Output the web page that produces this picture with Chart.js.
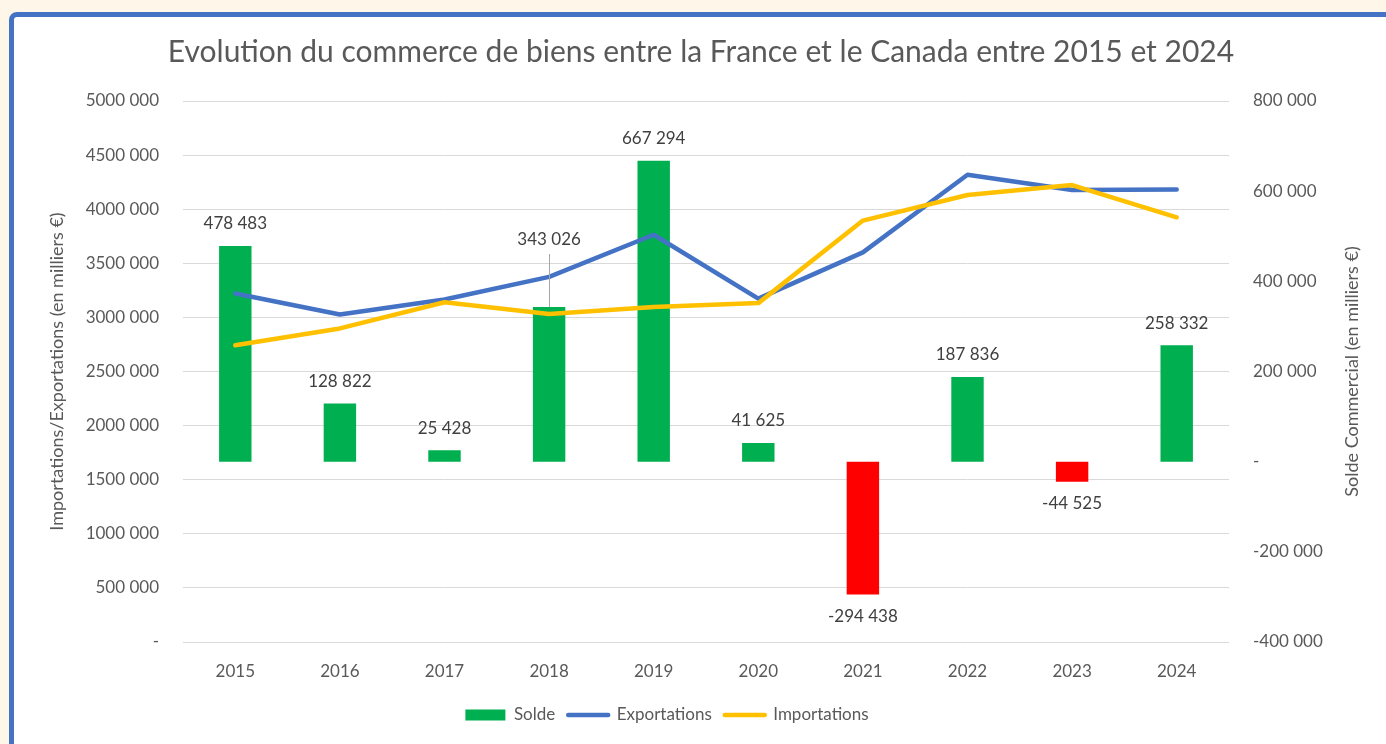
<!DOCTYPE html>
<html><head><meta charset="utf-8">
<script src="https://cdn.jsdelivr.net/npm/chart.js@4.4.1/dist/chart.umd.min.js"></script>
<style>
html,body{margin:0;padding:0;width:1386px;height:744px;overflow:hidden;background:#FEF6E8;}
#frame{position:absolute;left:9px;top:12px;width:1420px;height:780px;border:5px solid #4472C4;border-top-left-radius:8px;background:#fff;box-sizing:border-box;}
#wrap{position:absolute;left:0;top:0;width:1386px;height:744px;}
</style></head><body>
<div id="frame"></div>
<div id="wrap"><canvas id="c" width="1386" height="744"></canvas></div>
<script>
const categories = ['2015','2016','2017','2018','2019','2020','2021','2022','2023','2024'];
const solde = [478483, 128822, 25428, 343026, 667294, 41625, -294438, 187836, -44525, 258332];
const exportations = [3221000, 3027000, 3166000, 3375000, 3764000, 3174000, 3601000, 4319000, 4178000, 4183000];
const importations = [2742000, 2898000, 3140000, 3032000, 3097000, 3132000, 3895000, 4131000, 4223000, 3925000];
const leftTickLabels = ['-', '500 000', '1000 000', '1500 000', '2000 000', '2500 000', '3000 000', '3500 000', '4000 000', '4500 000', '5000 000'];
const rightTickLabels = ['-400 000', '-200 000', '-', '200 000', '400 000', '600 000', '800 000'];

const FONT = 'Lato';
const GREY = '#595959';

function fmt(v){
  const s = String(Math.abs(v)).replace(/\B(?=(\d{3})+(?!\d))/g, ' ');
  return (v < 0 ? '-' : '') + s;
}

const barLabels = {
  id: 'barLabels',
  afterDatasetsDraw(chart, args, opts){
    const meta = chart.getDatasetMeta(0);
    const ctx = chart.ctx;
    ctx.save();
    ctx.font = '17px ' + FONT;
    ctx.textAlign = 'center';
    ctx.textBaseline = 'middle';
    meta.data.forEach((bar, i) => {
      const v = chart.data.datasets[0].data[i];
      const lift = opts.raised[chart.data.labels[i]];
      let y;
      if (lift) {
        y = bar.y - lift;
        ctx.strokeStyle = '#A6A6A6';
        ctx.lineWidth = 1;
        ctx.beginPath();
        ctx.moveTo(Math.round(bar.x) + 0.5, y + 15);
        ctx.lineTo(Math.round(bar.x) + 0.5, bar.y);
        ctx.stroke();
      } else {
        y = v >= 0 ? bar.y - opts.gap : bar.y + opts.gap;
      }
      ctx.fillStyle = '#404040';
      ctx.fillText(fmt(v), bar.x, y);
    });
    ctx.restore();
  }
};

const rightTitle = {
  id: 'rightTitle',
  afterDraw(chart, args, opts){
    const ctx = chart.ctx;
    const ca = chart.chartArea;
    ctx.save();
    ctx.translate(opts.x, (ca.top + ca.bottom) / 2);
    ctx.rotate(-Math.PI / 2);
    ctx.font = '18px ' + FONT;
    ctx.fillStyle = GREY;
    ctx.textAlign = 'center';
    ctx.textBaseline = 'middle';
    ctx.fillText(opts.text, 0, 0);
    ctx.restore();
  }
};

const shiftBoxes = {
  id: 'shiftBoxes',
  afterLayout(chart, args, opts){
    if (chart.legend) { chart.legend.left += opts.legend; chart.legend.right += opts.legend; }
    if (chart.titleBlock) { chart.titleBlock.left += opts.title; chart.titleBlock.right += opts.title; }
  }
};

new Chart(document.getElementById('c'), {
  data: {
    labels: categories,
    datasets: [
      {
        type: 'bar',
        label: 'Solde',
        data: solde,
        yAxisID: 'y1',
        backgroundColor: (c) => (c.raw < 0 ? '#FF0000' : '#00B050'),
        borderWidth: 0,
        barPercentage: 0.31,
        categoryPercentage: 1,
        order: 2
      },
      {
        type: 'line',
        label: 'Exportations',
        data: exportations,
        yAxisID: 'y',
        borderColor: '#4472C4',
        backgroundColor: '#4472C4',
        borderWidth: 4.5,
        pointRadius: 0,
        tension: 0,
        borderCapStyle: 'round',
        borderJoinStyle: 'round',
        order: 1
      },
      {
        type: 'line',
        label: 'Importations',
        data: importations,
        yAxisID: 'y',
        borderColor: '#FFC000',
        backgroundColor: '#FFC000',
        borderWidth: 4.5,
        pointRadius: 0,
        tension: 0,
        borderCapStyle: 'round',
        borderJoinStyle: 'round',
        order: 0
      }
    ]
  },
  options: {
    responsive: false,
    animation: false,
    devicePixelRatio: 1,
    layout: { padding: { top: 0, left: 0, right: 0, bottom: 10.5 } },
    scales: {
      x: {
        grid: { display: false },
        border: { display: false },
        ticks: { color: GREY, font: { family: FONT, size: 17 }, padding: 11 },
        afterFit(s){ s.height = 51.5; }
      },
      y: {
        position: 'left',
        min: 0, max: 5000000,
        grid: { color: '#D9D9D9', lineWidth: 1, drawTicks: false },
        border: { display: false },
        ticks: {
          stepSize: 500000,
          color: GREY,
          font: { family: FONT, size: 17 },
          padding: 24,
          callback: (v, i) => leftTickLabels[i]
        },
        title: {
          display: true,
          text: 'Importations/Exportations (en milliers €)',
          color: GREY,
          font: { family: FONT, size: 18 },
          padding: { top: 46, bottom: 0 }
        },
        afterFit(s){ s.width = 183; }
      },
      y1: {
        position: 'right',
        min: -400000, max: 800000,
        grid: { display: false, drawTicks: false },
        border: { display: false },
        ticks: {
          stepSize: 200000,
          color: GREY,
          font: { family: FONT, size: 17 },
          padding: 24,
          callback: (v, i) => rightTickLabels[i]
        },
        afterFit(s){ s.width = 157; }
      }
    },
    plugins: {
      title: {
        display: true,
        text: 'Evolution du commerce de biens entre la France et le Canada entre 2015 et 2024',
        color: GREY,
        font: { family: FONT, size: 30, weight: 'normal' },
        padding: { top: 34, bottom: 31 }
      },
      legend: {
        position: 'bottom',
        labels: {
          usePointStyle: true,
          pointStyleWidth: 40,
          boxHeight: 11,
          padding: 13,
          color: GREY,
          font: { family: FONT, size: 17 },
          sort: (a, b) => a.datasetIndex - b.datasetIndex,
          generateLabels(chart){
            const items = Chart.defaults.plugins.legend.labels.generateLabels(chart);
            items.forEach(it => {
              if (it.datasetIndex === 0) {
                it.pointStyle = 'rect'; it.lineWidth = 0; it.fillStyle = '#00B050'; it.strokeStyle = '#00B050';
              } else {
                it.pointStyle = 'line'; it.lineWidth = 4.5; it.lineCap = 'round';
              }
            });
            return items;
          }
        }
      },
      tooltip: { enabled: false },
      barLabels: { gap: 22, raised: { '2018': 68 } },
      rightTitle: { x: 1352, text: 'Solde Commercial (en milliers €)' },
      shiftBoxes: { legend: -26, title: 8 }
    }
  },
  plugins: [barLabels, rightTitle, shiftBoxes]
});
</script>
</body></html>
